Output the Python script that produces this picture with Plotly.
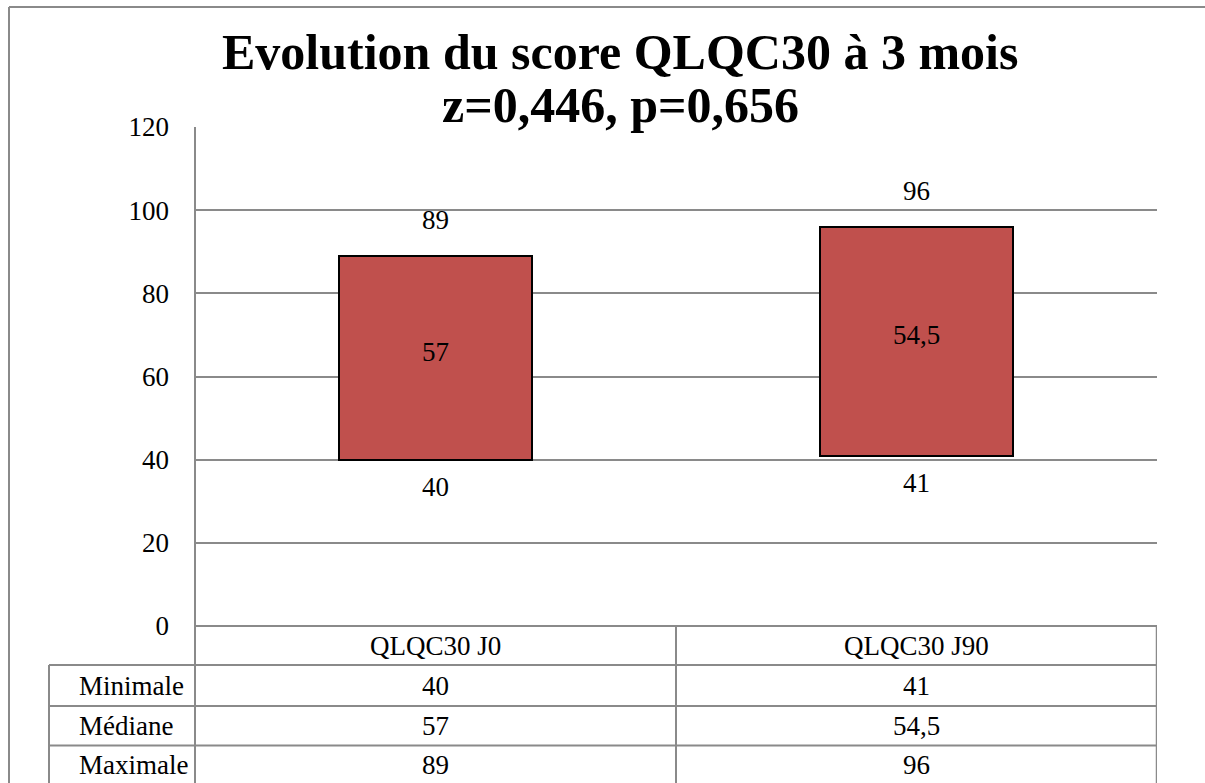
import plotly.graph_objects as go

# ---- data ----
CATEGORIES = ["QLQC30 J0", "QLQC30 J90"]
MINIMALE = [40, 41]
MEDIANE = [57, 54.5]
MAXIMALE = [89, 96]
ROW_LABELS = ["Minimale", "Médiane", "Maximale"]
TITLE_LINE1 = "Evolution du score QLQC30 à 3 mois"
TITLE_LINE2 = "z=0,446, p=0,656"
Y_TICKS = [0, 20, 40, 60, 80, 100, 120]

# ---- styles ----
FONT = "Liberation Serif"
BAR_COLOR = "#C0504D"
GRID = "#8a8a8a"
W, H = 1205, 783
L, R, T, B = 195, 48, 127, 157
PW, PH = W - L - R, H - T - B


def fmt(v):
    s = ("%g" % v)
    return s.replace(".", ",")


def px_x(p):
    return (p - L) / PW


def px_y(p):
    return (H - B - p) / PH


fig = go.Figure()
fig.add_trace(go.Bar(
    x=CATEGORIES,
    y=[mx - mn for mn, mx in zip(MINIMALE, MAXIMALE)],
    base=MINIMALE,
    width=0.4,
    marker=dict(color=BAR_COLOR, line=dict(color="black", width=2)),
    hoverinfo="skip",
))

annotations = []
# data labels
for i, c in enumerate(CATEGORIES):
    annotations.append(dict(x=c, y=MAXIMALE[i], xref="x", yref="y", text=fmt(MAXIMALE[i]),
                            showarrow=False, yanchor="middle", yshift=36))
    annotations.append(dict(x=c, y=(MINIMALE[i] + MAXIMALE[i]) / 2, xref="x", yref="y",
                            text=fmt(MEDIANE[i]), showarrow=False, yanchor="middle", yshift=6))
    annotations.append(dict(x=c, y=MINIMALE[i], xref="x", yref="y", text=fmt(MINIMALE[i]),
                            showarrow=False, yanchor="middle", yshift=-27))

# title
annotations.append(dict(x=px_x(620), y=px_y(52), xref="paper", yref="paper", text="<b>%s</b>" % TITLE_LINE1,
                        showarrow=False, xanchor="center", yanchor="middle",
                        font=dict(size=50, family=FONT, color="black")))
annotations.append(dict(x=px_x(620), y=px_y(105), xref="paper", yref="paper", text="<b>%s</b>" % TITLE_LINE2,
                        showarrow=False, xanchor="center", yanchor="middle",
                        font=dict(size=50, family=FONT, color="black")))

# data table
row_tops = [626, 665, 706, 745.5, 785]
header_mid = (row_tops[0] + row_tops[1]) / 2
for i, c in enumerate(CATEGORIES):
    annotations.append(dict(x=c, y=px_y(header_mid), xref="x", yref="paper", text=c,
                            showarrow=False, yanchor="middle"))
rows = [MINIMALE, MEDIANE, MAXIMALE]
for r, (lab, vals) in enumerate(zip(ROW_LABELS, rows)):
    mid = (row_tops[r + 1] + row_tops[r + 2]) / 2
    annotations.append(dict(x=px_x(77), y=px_y(mid), xref="paper", yref="paper", text=lab,
                            showarrow=False, xanchor="left", yanchor="middle"))
    for i, c in enumerate(CATEGORIES):
        annotations.append(dict(x=c, y=px_y(mid), xref="x", yref="paper", text=fmt(vals[i]),
                                showarrow=False, yanchor="middle"))

line = dict(color=GRID, width=2)
shapes = []
# outer chart border (top + left)
shapes.append(dict(type="line", xref="paper", yref="paper", x0=px_x(9), x1=px_x(1220),
                   y0=px_y(7), y1=px_y(7), line=line))
shapes.append(dict(type="line", xref="paper", yref="paper", x0=px_x(9), x1=px_x(9),
                   y0=px_y(7), y1=px_y(800), line=line))
# horizontal table lines
shapes.append(dict(type="line", xref="paper", yref="paper", x0=px_x(195), x1=px_x(1157),
                   y0=px_y(row_tops[0]), y1=px_y(row_tops[0]), line=line))
for rt in row_tops[1:4]:
    shapes.append(dict(type="line", xref="paper", yref="paper", x0=px_x(49), x1=px_x(1157),
                       y0=px_y(rt), y1=px_y(rt), line=line))
# vertical table lines
shapes.append(dict(type="line", xref="paper", yref="paper", x0=px_x(49), x1=px_x(49),
                   y0=px_y(row_tops[1]), y1=px_y(800), line=line))
shapes.append(dict(type="line", xref="paper", yref="paper", x0=0, x1=0,
                   y0=1, y1=px_y(800), line=line))
shapes.append(dict(type="line", xref="x", yref="paper", x0=0.5, x1=0.5,
                   y0=px_y(row_tops[0]), y1=px_y(800), line=line))
shapes.append(dict(type="line", xref="x", yref="paper", x0=1.5, x1=1.5,
                   y0=px_y(row_tops[0]), y1=px_y(800), line=dict(color=GRID, width=2.5)))

fig.update_layout(
    width=W, height=H,
    margin=dict(l=L, r=R, t=T, b=B, autoexpand=False),
    plot_bgcolor="white", paper_bgcolor="white",
    showlegend=False,
    font=dict(family=FONT, size=27, color="black"),
    annotations=annotations,
    shapes=shapes,
    bargap=0,
)
fig.update_xaxes(type="category", range=[-0.5, 1.5], showticklabels=False, showgrid=False,
                 showline=False, zeroline=False, fixedrange=True)
fig.update_yaxes(range=[0, 120], tickvals=Y_TICKS, showgrid=True, gridcolor=GRID, gridwidth=1.5,
                 showline=False, zeroline=False, ticks="", ticklabelstandoff=25,
                 tickfont=dict(size=27, family=FONT, color="black"), fixedrange=True)

fig.write_html(
    "out.html",
    config={"displayModeBar": False},
    post_script="document.body.style.margin='0';document.body.style.overflow='hidden';",
)
